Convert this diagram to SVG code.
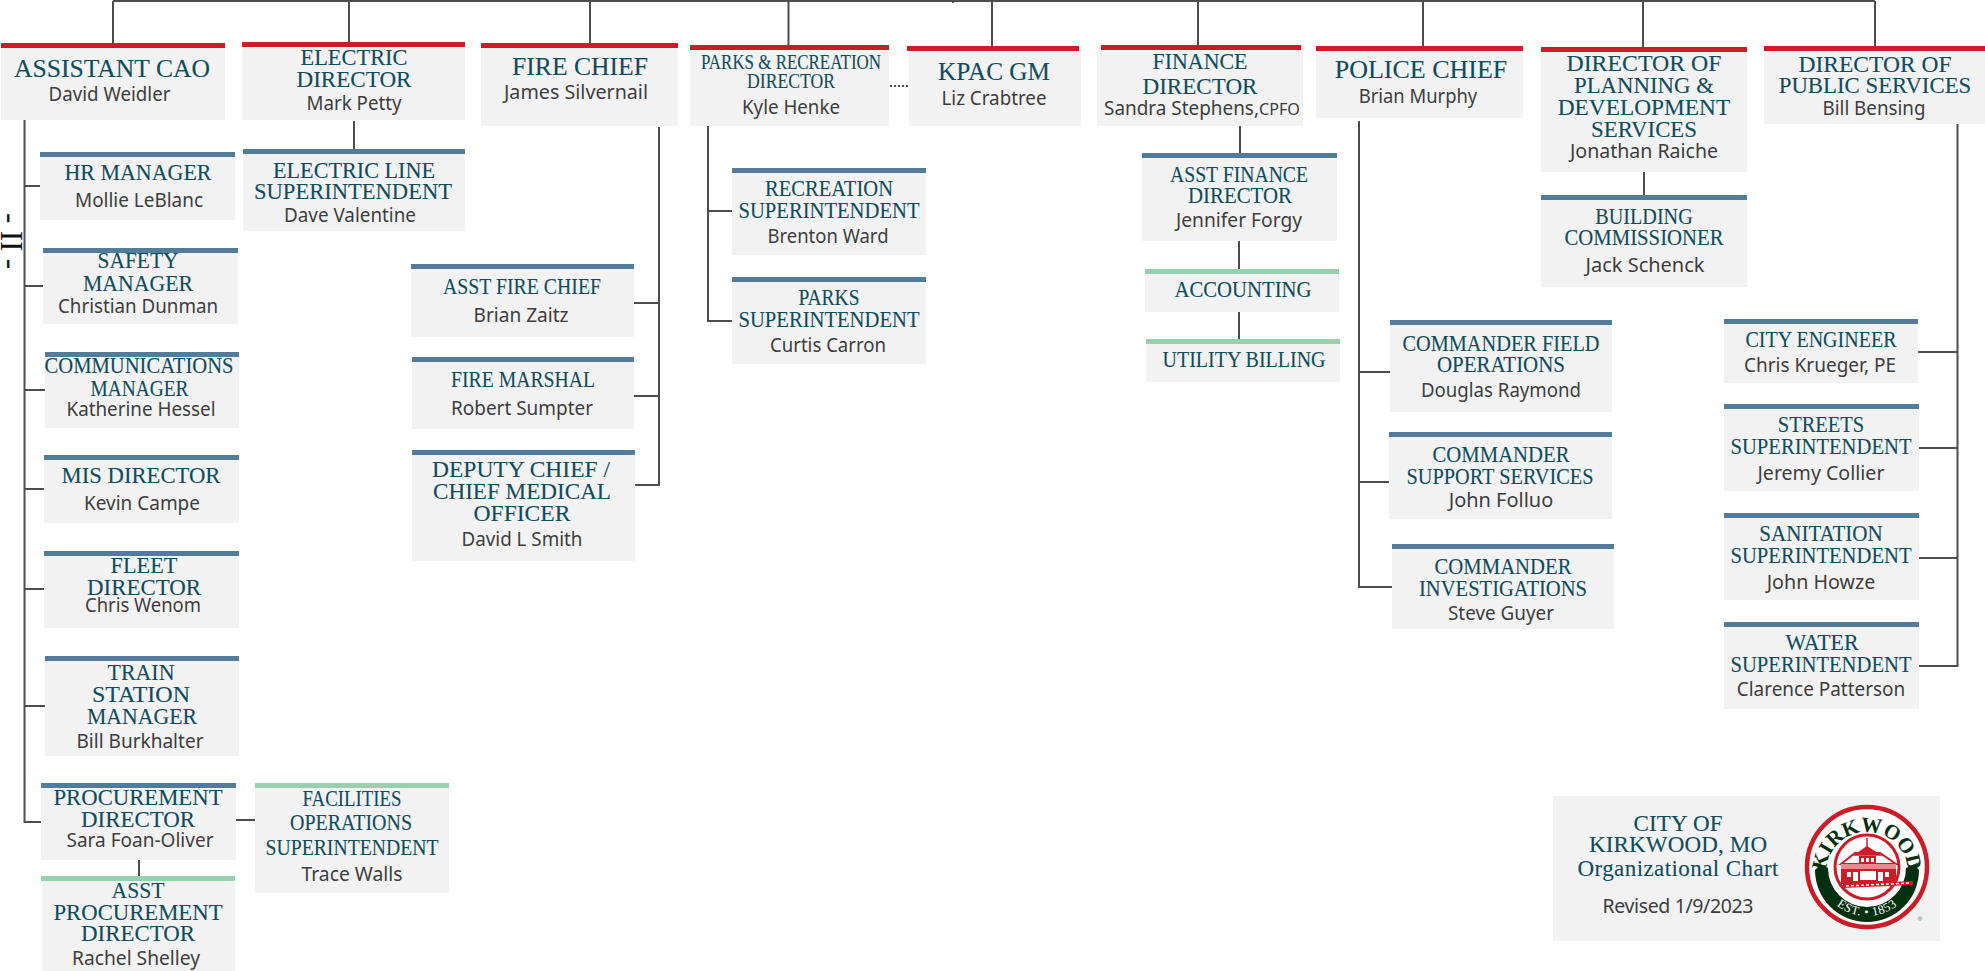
<svg xmlns="http://www.w3.org/2000/svg" width="1985" height="971" viewBox="0 0 1985 971">
<style>
.b{fill:#f2f2f2}.r{fill:#cc1c27}.u{fill:#517c9a}.g{fill:#98d0ad}
text{text-anchor:middle}
.t{font-family:"Liberation Serif",serif;font-size:23px;fill:#0f4c5c;stroke:#0f4c5c;stroke-width:.1px}
.l{font-size:25px}
.n{font-family:"Noto Sans",sans-serif;font-size:19.5px;fill:#3d3d3d}
.c{fill:none;stroke:#4d4d4d;stroke-width:2}
</style>
<defs>
<path id="arcTop" d="M1826,873A41 41 0 1 1 1908,873"/>
<path id="arcBot" d="M1818,867A49 49 0 0 0 1916,867"/>
</defs>
<g id="connectors" class="c">
<path d="M113,1H1875M113,1V43M349,1V42M590,1V43M788.500,1V45M992,1V46M1198,1V45M1423,1V46M1643,1V47M1875,1V46M953,1V3"/>
<path d="M24.500,120V822H41M24.500,186H40M24.500,286H43M24.500,390H45M24.500,489H44M24.500,589H44M24.500,706H45"/>
<path d="M236,820H255M139,860V876M354,121V149"/>
<path d="M659,127V485H635M634,303H659M634,396H659"/>
<path d="M708,126V321H732M708,211H732"/>
<path d="M890,86H908" stroke-dasharray="2 2"/>
<path d="M1240,125V153M1239,241V269M1239,312V339"/>
<path d="M1359,121V587H1392M1359,372H1390M1359,482H1389"/>
<path d="M1644,172V195"/>
<path d="M1957.500,124V666H1918M1918,352H1957.500M1918,448H1957.500M1918,558H1957.500"/>
</g>
<text id="page-number" transform="translate(1,241) rotate(90)" style="font-family:'Liberation Serif',serif;font-size:31px;fill:#111" textLength="56" lengthAdjust="spacing">- II -</text>

<g id="assistant-cao"><rect class="b" x="1" y="43" width="224" height="77"/><rect class="r" x="1" y="43" width="224" height="5"/>
<text class="t l" x="112" y="77" textLength="196" lengthAdjust="spacingAndGlyphs">ASSISTANT CAO</text><text class="n" x="109.500" y="101" textLength="122" lengthAdjust="spacingAndGlyphs">David Weidler</text></g>
<g id="electric-director"><rect class="b" x="242" y="42" width="223" height="78"/><rect class="r" x="242" y="42" width="223" height="5"/>
<text class="t" x="354" y="65" textLength="107" lengthAdjust="spacingAndGlyphs">ELECTRIC</text><text class="t" x="354" y="87" textLength="115" lengthAdjust="spacingAndGlyphs">DIRECTOR</text><text class="n" x="354" y="110" textLength="95" lengthAdjust="spacingAndGlyphs">Mark Petty</text></g>
<g id="electric-line"><rect class="b" x="243" y="149" width="222" height="82"/><rect class="u" x="243" y="149" width="222" height="5"/>
<text class="t" x="354" y="178" textLength="162" lengthAdjust="spacingAndGlyphs">ELECTRIC LINE</text><text class="t" x="353" y="199" textLength="198" lengthAdjust="spacingAndGlyphs">SUPERINTENDENT</text><text class="n" x="350" y="222" textLength="132" lengthAdjust="spacingAndGlyphs">Dave Valentine</text></g>
<g id="hr-manager"><rect class="b" x="40" y="152" width="195" height="68"/><rect class="u" x="40" y="152" width="195" height="5"/>
<text class="t" x="138" y="180" textLength="147" lengthAdjust="spacingAndGlyphs">HR MANAGER</text><text class="n" x="139" y="207" textLength="128" lengthAdjust="spacingAndGlyphs">Mollie LeBlanc</text></g>
<g id="safety-manager"><rect class="b" x="43" y="248" width="195" height="76"/><rect class="u" x="43" y="248" width="195" height="5"/>
<text class="t" x="138" y="268" textLength="81" lengthAdjust="spacingAndGlyphs">SAFETY</text><text class="t" x="138" y="291" textLength="110" lengthAdjust="spacingAndGlyphs">MANAGER</text><text class="n" x="138" y="313" textLength="160" lengthAdjust="spacingAndGlyphs">Christian Dunman</text></g>
<g id="communications-manager"><rect class="b" x="45" y="352" width="194" height="76"/><rect class="u" x="45" y="352" width="194" height="5"/>
<text class="t" x="139" y="373" textLength="189" lengthAdjust="spacingAndGlyphs">COMMUNICATIONS</text><text class="t" x="139.500" y="396" textLength="98" lengthAdjust="spacingAndGlyphs">MANAGER</text><text class="n" x="141" y="416" textLength="149" lengthAdjust="spacingAndGlyphs">Katherine Hessel</text></g>
<g id="mis-director"><rect class="b" x="44" y="455" width="195" height="68"/><rect class="u" x="44" y="455" width="195" height="5"/>
<text class="t" x="141" y="483" textLength="159" lengthAdjust="spacingAndGlyphs">MIS DIRECTOR</text><text class="n" x="142" y="510" textLength="116" lengthAdjust="spacingAndGlyphs">Kevin Campe</text></g>
<g id="fleet-director"><rect class="b" x="44" y="551" width="195" height="77"/><rect class="u" x="44" y="551" width="195" height="5"/>
<text class="t" x="144" y="573" textLength="67" lengthAdjust="spacingAndGlyphs">FLEET</text><text class="t" x="144" y="595" textLength="114" lengthAdjust="spacingAndGlyphs">DIRECTOR</text><text class="n" x="143" y="612" textLength="116" lengthAdjust="spacingAndGlyphs">Chris Wenom</text></g>
<g id="train-station-manager"><rect class="b" x="45" y="656" width="194" height="100"/><rect class="u" x="45" y="656" width="194" height="5"/>
<text class="t" x="141" y="680" textLength="67" lengthAdjust="spacingAndGlyphs">TRAIN</text><text class="t" x="141" y="702" textLength="98" lengthAdjust="spacingAndGlyphs">STATION</text><text class="t" x="142" y="724" textLength="110" lengthAdjust="spacingAndGlyphs">MANAGER</text><text class="n" x="140" y="748" textLength="127" lengthAdjust="spacingAndGlyphs">Bill Burkhalter</text></g>
<g id="procurement-director"><rect class="b" x="41" y="783" width="195" height="77"/><rect class="u" x="41" y="783" width="195" height="5"/>
<text class="t" x="138" y="805" textLength="169" lengthAdjust="spacingAndGlyphs">PROCUREMENT</text><text class="t" x="138" y="827" textLength="114" lengthAdjust="spacingAndGlyphs">DIRECTOR</text><text class="n" x="140" y="847" textLength="147" lengthAdjust="spacingAndGlyphs">Sara Foan-Oliver</text></g>
<g id="asst-procurement-director"><rect class="b" x="42" y="876" width="193" height="95"/><rect class="g" x="41" y="876" width="194" height="5"/>
<text class="t" x="138" y="898" textLength="53" lengthAdjust="spacingAndGlyphs">ASST</text><text class="t" x="138" y="920" textLength="169" lengthAdjust="spacingAndGlyphs">PROCUREMENT</text><text class="t" x="138" y="941" textLength="114" lengthAdjust="spacingAndGlyphs">DIRECTOR</text><text class="n" x="136" y="965" textLength="128" lengthAdjust="spacingAndGlyphs">Rachel Shelley</text></g>
<g id="facilities"><rect class="b" x="255" y="783" width="194" height="110"/><rect class="g" x="255" y="783" width="194" height="5"/>
<text class="t" x="352" y="806" textLength="99" lengthAdjust="spacingAndGlyphs">FACILITIES</text><text class="t" x="351" y="830" textLength="122" lengthAdjust="spacingAndGlyphs">OPERATIONS</text><text class="t" x="352" y="855" textLength="173" lengthAdjust="spacingAndGlyphs">SUPERINTENDENT</text><text class="n" x="352" y="881" textLength="101" lengthAdjust="spacingAndGlyphs">Trace Walls</text></g>

<g id="fire-chief"><rect class="b" x="481" y="43" width="197" height="83"/><rect class="r" x="481" y="43" width="197" height="5"/>
<text class="t l" x="580" y="75" textLength="136" lengthAdjust="spacingAndGlyphs">FIRE CHIEF</text><text class="n" x="576" y="99" textLength="144" lengthAdjust="spacingAndGlyphs">James Silvernail</text></g>
<g id="asst-fire-chief"><rect class="b" x="411" y="264" width="223" height="73"/><rect class="u" x="411" y="264" width="223" height="5"/>
<text class="t" x="522" y="294" textLength="158" lengthAdjust="spacingAndGlyphs">ASST FIRE CHIEF</text><text class="n" x="521" y="322" textLength="95" lengthAdjust="spacingAndGlyphs">Brian Zaitz</text></g>
<g id="fire-marshal"><rect class="b" x="412" y="357" width="222" height="72"/><rect class="u" x="412" y="357" width="222" height="5"/>
<text class="t" x="523" y="387" textLength="144" lengthAdjust="spacingAndGlyphs">FIRE MARSHAL</text><text class="n" x="522" y="415" textLength="142" lengthAdjust="spacingAndGlyphs">Robert Sumpter</text></g>
<g id="deputy-chief"><rect class="b" x="412" y="450" width="223" height="111"/><rect class="u" x="412" y="450" width="223" height="5"/>
<text class="t" x="521" y="477" textLength="178" lengthAdjust="spacingAndGlyphs">DEPUTY CHIEF /</text><text class="t" x="522" y="499" textLength="178" lengthAdjust="spacingAndGlyphs">CHIEF MEDICAL</text><text class="t" x="522" y="521" textLength="97" lengthAdjust="spacingAndGlyphs">OFFICER</text><text class="n" x="522" y="546" textLength="121" lengthAdjust="spacingAndGlyphs">David L Smith</text></g>

<g id="parks-recreation-director"><rect class="b" x="690" y="45" width="199" height="81"/><rect class="r" x="690" y="45" width="199" height="5"/>
<text class="t" style="font-size:20px" x="791" y="69" textLength="180" lengthAdjust="spacingAndGlyphs">PARKS &amp; RECREATION</text><text class="t" style="font-size:20px" x="791" y="88" textLength="88" lengthAdjust="spacingAndGlyphs">DIRECTOR</text><text class="n" x="791" y="114" textLength="98" lengthAdjust="spacingAndGlyphs">Kyle Henke</text></g>
<g id="kpac-gm"><rect class="b" x="909" y="46" width="172" height="80"/><rect class="r" x="907" y="46" width="172" height="5"/>
<text class="t l" x="994" y="80" textLength="112" lengthAdjust="spacingAndGlyphs">KPAC GM</text><text class="n" x="994" y="105" textLength="105" lengthAdjust="spacingAndGlyphs">Liz Crabtree</text></g>
<g id="finance-director"><rect class="b" x="1097" y="45" width="206" height="81"/><rect class="r" x="1101" y="45" width="200" height="5"/>
<text class="t" x="1200" y="69" textLength="95" lengthAdjust="spacingAndGlyphs">FINANCE</text><text class="t" x="1200" y="94" textLength="115" lengthAdjust="spacingAndGlyphs">DIRECTOR</text><text class="n" x="1181.500" y="115" textLength="155" lengthAdjust="spacingAndGlyphs">Sandra Stephens,</text><text class="n" style="font-size:17px" x="1279.500" y="115" textLength="41" lengthAdjust="spacingAndGlyphs">CPFO</text></g>
<g id="recreation-superintendent"><rect class="b" x="732" y="168" width="194" height="87"/><rect class="u" x="732" y="168" width="194" height="5"/>
<text class="t" x="829" y="196" textLength="128" lengthAdjust="spacingAndGlyphs">RECREATION</text><text class="t" x="829" y="218" textLength="181" lengthAdjust="spacingAndGlyphs">SUPERINTENDENT</text><text class="n" x="828" y="243" textLength="121" lengthAdjust="spacingAndGlyphs">Brenton Ward</text></g>
<g id="parks-superintendent"><rect class="b" x="732" y="277" width="194" height="87"/><rect class="u" x="732" y="277" width="194" height="5"/>
<text class="t" x="829" y="305" textLength="61" lengthAdjust="spacingAndGlyphs">PARKS</text><text class="t" x="829" y="327" textLength="181" lengthAdjust="spacingAndGlyphs">SUPERINTENDENT</text><text class="n" x="828" y="352" textLength="116" lengthAdjust="spacingAndGlyphs">Curtis Carron</text></g>
<g id="asst-finance-director"><rect class="b" x="1142" y="153" width="195" height="88"/><rect class="u" x="1142" y="153" width="195" height="5"/>
<text class="t" x="1239" y="182" textLength="138" lengthAdjust="spacingAndGlyphs">ASST FINANCE</text><text class="t" x="1240" y="203" textLength="104" lengthAdjust="spacingAndGlyphs">DIRECTOR</text><text class="n" x="1239" y="227" textLength="126" lengthAdjust="spacingAndGlyphs">Jennifer Forgy</text></g>
<g id="accounting"><rect class="b" x="1145" y="269" width="194" height="43"/><rect class="g" x="1145" y="269" width="194" height="5"/>
<text class="t" x="1243" y="297" textLength="137" lengthAdjust="spacingAndGlyphs">ACCOUNTING</text></g>
<g id="utility-billing"><rect class="b" x="1146" y="339" width="194" height="43"/><rect class="g" x="1146" y="339" width="194" height="5"/>
<text class="t" x="1244" y="367" textLength="163" lengthAdjust="spacingAndGlyphs">UTILITY BILLING</text></g>

<g id="police-chief"><rect class="b" x="1316" y="46" width="207" height="72"/><rect class="r" x="1316" y="46" width="207" height="5"/>
<text class="t l" x="1421" y="78" textLength="172.500" lengthAdjust="spacingAndGlyphs">POLICE CHIEF</text><text class="n" x="1418" y="103" textLength="118.500" lengthAdjust="spacingAndGlyphs">Brian Murphy</text></g>
<g id="commander-field"><rect class="b" x="1390" y="320" width="222" height="92"/><rect class="u" x="1390" y="320" width="222" height="5"/>
<text class="t" x="1501" y="351" textLength="197" lengthAdjust="spacingAndGlyphs">COMMANDER FIELD</text><text class="t" x="1501" y="372" textLength="128" lengthAdjust="spacingAndGlyphs">OPERATIONS</text><text class="n" x="1501" y="397" textLength="160" lengthAdjust="spacingAndGlyphs">Douglas Raymond</text></g>
<g id="commander-support"><rect class="b" x="1389" y="432" width="223" height="87"/><rect class="u" x="1389" y="432" width="223" height="5"/>
<text class="t" x="1501" y="462" textLength="137" lengthAdjust="spacingAndGlyphs">COMMANDER</text><text class="t" x="1500" y="484" textLength="187" lengthAdjust="spacingAndGlyphs">SUPPORT SERVICES</text><text class="n" x="1501" y="507" textLength="104.500" lengthAdjust="spacingAndGlyphs">John Folluo</text></g>
<g id="commander-investigations"><rect class="b" x="1392" y="544" width="222" height="85"/><rect class="u" x="1392" y="544" width="222" height="5"/>
<text class="t" x="1503" y="574" textLength="137" lengthAdjust="spacingAndGlyphs">COMMANDER</text><text class="t" x="1503" y="596" textLength="168" lengthAdjust="spacingAndGlyphs">INVESTIGATIONS</text><text class="n" x="1501" y="620" textLength="106" lengthAdjust="spacingAndGlyphs">Steve Guyer</text></g>

<g id="planning-director"><rect class="b" x="1541" y="47" width="206" height="125"/><rect class="r" x="1541" y="47" width="206" height="5"/>
<text class="t" x="1644" y="71" textLength="155" lengthAdjust="spacingAndGlyphs">DIRECTOR OF</text><text class="t" x="1644" y="93" textLength="140" lengthAdjust="spacingAndGlyphs">PLANNING &amp;</text><text class="t" x="1644" y="115" textLength="172.500" lengthAdjust="spacingAndGlyphs">DEVELOPMENT</text><text class="t" x="1644" y="137" textLength="106" lengthAdjust="spacingAndGlyphs">SERVICES</text><text class="n" x="1644" y="158" textLength="148" lengthAdjust="spacingAndGlyphs">Jonathan Raiche</text></g>
<g id="building-commissioner"><rect class="b" x="1541" y="195" width="206" height="92"/><rect class="u" x="1541" y="195" width="206" height="5"/>
<text class="t" x="1644" y="224" textLength="97.500" lengthAdjust="spacingAndGlyphs">BUILDING</text><text class="t" x="1644" y="245" textLength="159" lengthAdjust="spacingAndGlyphs">COMMISSIONER</text><text class="n" x="1645" y="272" textLength="119" lengthAdjust="spacingAndGlyphs">Jack Schenck</text></g>

<g id="public-services-director"><rect class="b" x="1764" y="46" width="221" height="78"/><rect class="r" x="1764" y="46" width="221" height="5"/>
<text class="t" x="1875" y="72" textLength="153" lengthAdjust="spacingAndGlyphs">DIRECTOR OF</text><text class="t" x="1875" y="93" textLength="192.500" lengthAdjust="spacingAndGlyphs">PUBLIC SERVICES</text><text class="n" x="1874" y="115" textLength="103" lengthAdjust="spacingAndGlyphs">Bill Bensing</text></g>
<g id="city-engineer"><rect class="b" x="1724" y="319" width="194" height="64"/><rect class="u" x="1724" y="319" width="194" height="5"/>
<text class="t" x="1821" y="347" textLength="151" lengthAdjust="spacingAndGlyphs">CITY ENGINEER</text><text class="n" x="1820" y="372" textLength="152" lengthAdjust="spacingAndGlyphs">Chris Krueger, PE</text></g>
<g id="streets-superintendent"><rect class="b" x="1724" y="404" width="195" height="87"/><rect class="u" x="1724" y="404" width="195" height="5"/>
<text class="t" x="1821" y="432" textLength="86.500" lengthAdjust="spacingAndGlyphs">STREETS</text><text class="t" x="1821" y="454" textLength="181" lengthAdjust="spacingAndGlyphs">SUPERINTENDENT</text><text class="n" x="1821" y="480" textLength="127" lengthAdjust="spacingAndGlyphs">Jeremy Collier</text></g>
<g id="sanitation-superintendent"><rect class="b" x="1724" y="513" width="195" height="87"/><rect class="u" x="1724" y="513" width="195" height="5"/>
<text class="t" x="1821" y="541" textLength="123.500" lengthAdjust="spacingAndGlyphs">SANITATION</text><text class="t" x="1821" y="563" textLength="181" lengthAdjust="spacingAndGlyphs">SUPERINTENDENT</text><text class="n" x="1821" y="589" textLength="108.500" lengthAdjust="spacingAndGlyphs">John Howze</text></g>
<g id="water-superintendent"><rect class="b" x="1724" y="622" width="195" height="87"/><rect class="u" x="1724" y="622" width="195" height="5"/>
<text class="t" x="1822" y="650" textLength="73" lengthAdjust="spacingAndGlyphs">WATER</text><text class="t" x="1821" y="672" textLength="181" lengthAdjust="spacingAndGlyphs">SUPERINTENDENT</text><text class="n" x="1821" y="696" textLength="168.500" lengthAdjust="spacingAndGlyphs">Clarence Patterson</text></g>

<g id="legend"><rect class="b" x="1553" y="796" width="387" height="145"/>
<text class="t" x="1678" y="831" textLength="89" lengthAdjust="spacing">CITY OF</text><text class="t" x="1678" y="852" textLength="178" lengthAdjust="spacing">KIRKWOOD, MO</text><text class="t" x="1678" y="876" textLength="201" lengthAdjust="spacing">Organizational Chart</text><text class="n" x="1678" y="913" textLength="151" lengthAdjust="spacing">Revised 1/9/2023</text>
<g id="logo">
<circle cx="1867" cy="867" r="60" fill="#fff" stroke="#cc1c27" stroke-width="4.500"/>
<path d="M1815,862L1819,866L1815,870A52 52 0 0 0 1919,870L1915,866L1919,862L1906,868A39 39 0 0 1 1828,868Z" fill="#04300f"/>
<circle cx="1867" cy="867" r="32" fill="#fff" stroke="#cc1c27" stroke-width="3"/>
<text style="font-family:'Liberation Serif',serif;font-size:21px;font-weight:700;fill:#04300f"><textPath href="#arcTop" startOffset="50%">KIRKWOOD</textPath></text>
<text style="font-family:'Liberation Serif',serif;font-size:12.500px;fill:#fff;letter-spacing:.5px"><textPath href="#arcBot" startOffset="50%">EST. • 1853</textPath></text>
<path d="M1867,838V849M1855,855L1867,847L1880,855Z" fill="#cc1c27" stroke="#cc1c27" stroke-width="1.500"/>
<rect x="1859" y="856" width="17" height="7" fill="#cc1c27"/>
<path d="M1861,858h3v4h-3zM1866,858h3v4h-3zM1871,858h3v4h-3z" fill="#fff"/>
<path d="M1841,864L1855,853H1880L1896,864Z" fill="none" stroke="#cc1c27" stroke-width="2"/>
<rect x="1841" y="864" width="55" height="5" fill="#e58a8f"/>
<rect x="1841" y="869" width="55" height="15" fill="#cc1c27"/>
<path d="M1847,872h4v5h-4zM1853,872h5v9h-5zM1860,871h16v9h-16zM1878,872h5v9h-5zM1885,872h4v5h-4z" fill="#fff"/>
<path d="M1843,886L1913,883" fill="none" stroke="#cc1c27" stroke-width="4"/>
<path d="M1846,886L1910,883" fill="none" stroke="#fff" stroke-width="1.500" stroke-dasharray="3 2"/>
<text style="font-family:'Liberation Sans',sans-serif;font-size:6px;fill:#3d6b55" x="1920" y="921">®</text>
</g></g>
</svg>
